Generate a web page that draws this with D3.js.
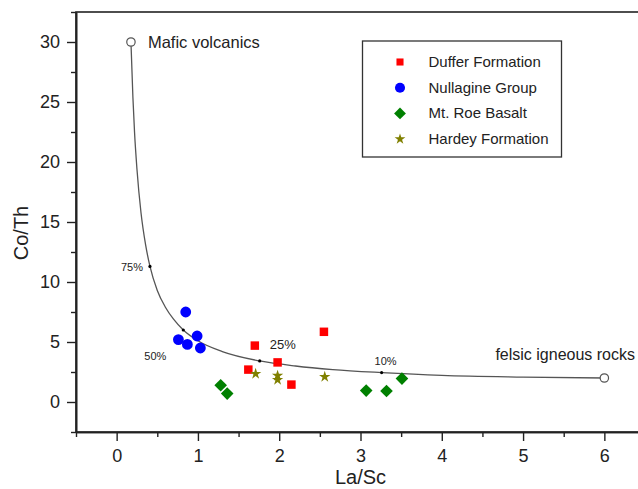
<!DOCTYPE html>
<html>
<head>
<meta charset="utf-8">
<script src="https://cdn.jsdelivr.net/npm/d3@7"></script>
<style>
  body { margin: 0; background: #fff; }
  svg text { font-family: "Liberation Sans", Arial, sans-serif; fill: #222; }
</style>
</head>
<body>
<div id="chart"></div>
<script>
// sample values (La/Sc, Co/Th)
const dufferX = [1.70, 1.98, 1.62, 2.15, 2.55];
const dufferY = [4.7, 3.3, 2.7, 1.45, 5.85];
const nullagineX = [0.85, 0.76, 0.87, 0.99, 1.03];
const nullagineY = [7.5, 5.2, 4.8, 5.5, 4.5];
const roeX = [1.28, 1.36, 3.07, 3.32, 3.51];
const roeY = [1.4, 0.7, 0.95, 0.92, 1.95];
const hardeyX = [1.71, 1.98, 1.98, 2.56];
const hardeyY = [2.35, 2.2, 1.85, 2.1];

// mixing line between the two end members
const curveX = [0.176, 0.2, 0.22, 0.25, 0.3, 0.357, 0.41, 0.5, 0.6, 0.7, 0.82, 1.0, 1.3, 1.76, 2.2, 2.66, 3.26, 4.0, 5.0, 6.0];
const curveY = [30, 25.4, 22.5, 19.4, 15.75, 13.07, 11.3, 9.3, 7.9, 6.9, 6.0, 5.1, 4.2, 3.42, 3.0, 2.7, 2.45, 2.22, 2.08, 2.0];
const endX = [0.176, 6.0];
const endY = [30, 2.0];
const endLabels = ["Mafic volcanics", "felsic igneous rocks"];
const mixX = [0.41, 0.82, 1.76, 3.26];
const mixY = [11.3, 6.0, 3.42, 2.45];
const mixLabels = ["75%", "50%", "25%", "10%"];

const xTicks = [0, 1, 2, 3, 4, 5, 6];
const yTicks = [0, 5, 10, 15, 20, 25, 30];

const width = 638, height = 489;

const svg = d3.select("#chart").append("svg")
    .attr("width", width)
    .attr("height", height);

const x = d3.scaleLinear().domain([-0.5, 6.5]).range([76, 645]);
const y = d3.scaleLinear().domain([-2.5, 32.5]).range([432, 12]);

// frame (right side falls outside the picture)
svg.append("rect")
    .attr("x", x(-0.5)).attr("y", y(32.5))
    .attr("width", x(6.5) - x(-0.5)).attr("height", y(-2.5) - y(32.5))
    .style("fill", "none").style("stroke", "#222").style("stroke-width", 1.6);

// axes, major and minor ticks
const xMinor = d3.range(-0.5, 6.51, 0.5).filter(v => !xTicks.includes(v));
const yMinor = d3.range(-2.5, 32.51, 2.5).filter(v => !yTicks.includes(v));

svg.append("g").attr("transform", `translate(0,${y(-2.5)})`)
    .call(d3.axisBottom(x).tickValues(xTicks).tickFormat(d3.format("d"))
        .tickSize(9).tickPadding(8).tickSizeOuter(0));
svg.append("g").attr("transform", `translate(0,${y(-2.5)})`)
    .call(d3.axisBottom(x).tickValues(xMinor).tickSize(5).tickFormat("").tickSizeOuter(0));

svg.append("g").attr("transform", `translate(${x(-0.5)},0)`)
    .call(d3.axisLeft(y).tickValues(yTicks).tickFormat(d3.format("d"))
        .tickSize(9).tickPadding(7).tickSizeOuter(0));
svg.append("g").attr("transform", `translate(${x(-0.5)},0)`)
    .call(d3.axisLeft(y).tickValues(yMinor).tickSize(5).tickFormat("").tickSizeOuter(0));

svg.selectAll(".domain").style("stroke", "#222").style("stroke-width", 1.6);
svg.selectAll(".tick line").style("stroke", "#222").style("stroke-width", 1.4);
svg.selectAll(".tick text").style("font-size", "18px").style("fill", "#222");

svg.append("text")
    .attr("x", x(3)).attr("y", 484)
    .attr("text-anchor", "middle")
    .style("font-size", "20px")
    .text("La/Sc");

svg.append("text")
    .attr("transform", `translate(28,233) rotate(-90)`)
    .attr("text-anchor", "middle")
    .style("font-size", "20px")
    .text("Co/Th");

// mixing curve
const curvePts = curveX.map((d, i) => [d, curveY[i]]);
const line = d3.line()
    .x(d => x(d[0]))
    .y(d => y(d[1]))
    .curve(d3.curveMonotoneX);

svg.append("path")
    .datum(curvePts)
    .attr("d", line)
    .style("fill", "none")
    .style("stroke", "#555")
    .style("stroke-width", 1.3);

svg.selectAll(".mix-dot")
    .data(mixX)
    .enter()
    .append("circle")
    .attr("class", "mix-dot")
    .attr("cx", d => x(d))
    .attr("cy", (d, i) => y(mixY[i]))
    .attr("r", 1.6)
    .style("fill", "#000");

// label offsets relative to the mixing dots
const mixOffsets = [[-7, 5, "end"], [-17, 30, "end"], [10, -12, "start"], [4, -8, "middle"]];
svg.selectAll(".mix-label")
    .data(mixLabels)
    .enter()
    .append("text")
    .attr("class", "mix-label")
    .attr("x", (d, i) => x(mixX[i]) + mixOffsets[i][0])
    .attr("y", (d, i) => y(mixY[i]) + mixOffsets[i][1])
    .attr("text-anchor", (d, i) => mixOffsets[i][2])
    .style("font-size", (d, i) => i === 2 ? "13px" : "11px")
    .text(d => d);

// scatter points
const symbol = (type, size) => d3.symbol().type(type).size(size)();

const series = [
    { name: "Duffer Formation", xs: dufferX, ys: dufferY, color: "#ff0000", path: symbol(d3.symbolSquare, 72), rot: 0 },
    { name: "Nullagine Group", xs: nullagineX, ys: nullagineY, color: "#0000ff", path: symbol(d3.symbolCircle, 92), rot: 0 },
    { name: "Mt. Roe Basalt", xs: roeX, ys: roeY, color: "#008000", path: symbol(d3.symbolSquare, 80), rot: 45 },
    { name: "Hardey Formation", xs: hardeyX, ys: hardeyY, color: "#808000", path: symbol(d3.symbolStar, 40), rot: 0 }
];

series.forEach(s => {
    svg.append("g").selectAll("path")
        .data(s.xs)
        .enter()
        .append("path")
        .attr("d", s.path)
        .attr("transform", (d, i) => `translate(${x(d)},${y(s.ys[i])}) rotate(${s.rot})`)
        .style("fill", s.color);
});

// end members
svg.selectAll(".end")
    .data(endX)
    .enter()
    .append("circle")
    .attr("class", "end")
    .attr("cx", d => x(d))
    .attr("cy", (d, i) => y(endY[i]))
    .attr("r", 4.2)
    .style("fill", "#fff")
    .style("stroke", "#555")
    .style("stroke-width", 1.2);

svg.append("text")
    .attr("x", x(endX[0]) + 17).attr("y", y(endY[0]) + 6)
    .style("font-size", "16.5px")
    .text(endLabels[0]);

svg.append("text")
    .attr("x", 635).attr("y", y(endY[1]) - 18)
    .attr("text-anchor", "end")
    .style("font-size", "16px")
    .text(endLabels[1]);

// legend
const legend = svg.append("g").attr("transform", "translate(362.5,41)");
legend.append("rect")
    .attr("width", 199).attr("height", 116)
    .style("fill", "#fff").style("stroke", "#333").style("stroke-width", 1.3);

const legendPaths = [
    symbol(d3.symbolSquare, 50),
    symbol(d3.symbolCircle, 80),
    symbol(d3.symbolSquare, 70),
    symbol(d3.symbolStar, 36)
];

series.forEach((s, i) => {
    const ly = 21 + i * 25.7;
    legend.append("path")
        .attr("d", legendPaths[i])
        .attr("transform", `translate(37.5,${ly}) rotate(${s.rot})`)
        .style("fill", s.color);
    legend.append("text")
        .attr("x", 66).attr("y", ly + 5)
        .style("font-size", "15px")
        .text(s.name);
});
</script>
</body>
</html>
